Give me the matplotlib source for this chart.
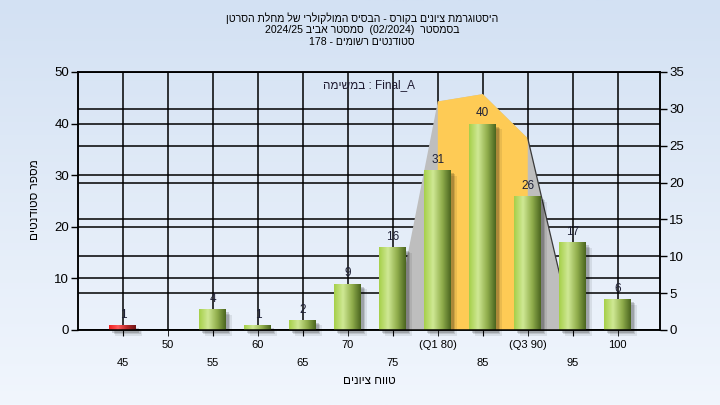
import numpy as np
import matplotlib.pyplot as plt
from matplotlib.colors import LinearSegmentedColormap
from matplotlib.patches import Rectangle

plt.rcParams['font.family'] = ['Liberation Sans', 'DejaVu Sans']

# histogram data
grades = ["45", "50", "55", "60", "65", "70", "75", "(Q1 80)", "85", "(Q3 90)", "95", "100"]
students = [1, 0, 4, 1, 2, 9, 16, 31, 40, 26, 17, 6]
failed = ["45"]

# curve drawn on the right hand axis
curve_grades = ["75", "(Q1 80)", "85", "(Q3 90)", "95"]
curve_vals = [0, 31, 32, 26, 0]
band = ["(Q1 80)", "85", "(Q3 90)"]


def rtl(s):
    # matplotlib has no bidi support, so hebrew is given in visual order
    return s[::-1]


title_lines = [
    rtl("היסטוגרמת ציונים בקורס - הבסיס המולקולרי של מחלת הסרטן"),
    "2024/25 " + rtl("סמסטר אביב") + "  (02/2024)  " + rtl("בסמסטר"),
    "178 - " + rtl("סטודנטים רשומים"),
]
legend_txt = rtl("במשימה") + " : Final_A"
ylab = rtl("מספר סטודנטים")
xlab = rtl("טווח ציונים")

fig = plt.figure(figsize=(7.2, 4.05), dpi=100)

# light blue background gradient
bg = fig.add_axes([0, 0, 1, 1], zorder=-10)
bg_cmap = LinearSegmentedColormap.from_list("bg", ["#d3e1f3", "#f1f6fd"])
bg.imshow(np.linspace(0, 1, 256).reshape(-1, 1), aspect="auto", cmap=bg_cmap, extent=[0, 1, 0, 1])
bg.axis("off")

rect = [78 / 720, 75 / 405, 582 / 720, 258 / 405]
ax = fig.add_axes(rect)
ax2 = ax.twinx()
ax.set_zorder(ax2.get_zorder() + 1)
ax.patch.set_visible(False)
ax2.set_facecolor("#b4b4b4")

pos = np.arange(len(grades))
cpos = [grades.index(g) for g in curve_grades]
bpos = [grades.index(g) for g in band]
bvals = [curve_vals[curve_grades.index(g)] for g in band]

# curve area and the quartile band (values live on the right axis)
ax.fill(cpos, curve_vals, color="#bebebe", lw=0, zorder=1, transform=ax2.transData)
ax.fill(bpos + bpos[::-1], bvals + [0] * len(bvals), color="#fecb55", lw=0, zorder=1.1,
        transform=ax2.transData)
ax.plot(cpos[3:], curve_vals[3:], color="#3a3a3a", lw=0.9, zorder=1.2, transform=ax2.transData)

green = LinearSegmentedColormap.from_list("g", ["#a6d04a", "#cfe894", "#93b04e", "#4b6620"])
red = LinearSegmentedColormap.from_list("r", ["#f02020", "#ff5a5a", "#b82828", "#6e1616"])
grad = np.linspace(0, 1, 64).reshape(1, -1)
w = 0.6
for x, n, g in zip(pos, students, grades):
    if n == 0:
        continue
    # soft shadow
    for k, a in enumerate([0.16, 0.12, 0.08]):
        sh = Rectangle((x - w / 2 + 0.06 + 0.03 * k, -0.6 - 0.25 * k), w, n, color="black",
                       alpha=a, lw=0, zorder=1.5, clip_on=False)
        ax.add_patch(sh)
    im = ax.imshow(grad, aspect="auto", cmap=red if g in failed else green,
                   extent=[x - w / 2, x + w / 2, 0, n], zorder=2)
    clip = Rectangle((x - w / 2, 0), w, n, transform=ax.transData)
    im.set_clip_path(clip)
    ax.annotate(str(n), (x, n), xytext=(0, 3), textcoords="offset points",
                ha="center", va="bottom", fontsize=8.5, color="#1e2036", zorder=3)

ax.set_xlim(-1, 11.94)
ax.set_ylim(0, 50)
ax2.set_ylim(0, 35)
ax.set_yticks(range(0, 51, 10))
ax2.set_yticks(range(0, 36, 5))

# alternate rows of tick labels
ax.set_xticks(pos[0::2], [grades[i] for i in pos[0::2]])
ax.set_xticks(pos[1::2], [grades[i] for i in pos[1::2]], minor=True)
ax.tick_params(axis="x", which="major", pad=16, length=4, labelsize=8)
ax.tick_params(axis="x", which="minor", pad=3, length=4, labelsize=8)
ax.tick_params(axis="y", length=5, width=1, labelsize=9.5, pad=1.5)
ax2.tick_params(axis="y", length=5, width=1, labelsize=9.5, pad=1.5)

ax.grid(True, which="both", axis="x", color="black", lw=1.1, zorder=0.5)
ax.grid(True, axis="y", color="black", lw=1.1)
ax2.grid(True, axis="y", color="black", lw=1.1)
ax.set_axisbelow(True)
ax2.set_axisbelow(True)
for a in (ax, ax2):
    for s in a.spines.values():
        s.set_color("black")
        s.set_linewidth(1.1)

ax.text(0.5, 0.95, legend_txt, transform=ax.transAxes, ha="center", va="center",
        fontsize=8.5, color="#1e1a30", zorder=4)

fig.text(35 / 720, 1 - 200 / 405, ylab, rotation=90, ha="center", va="center", fontsize=8.5)
fig.text(369 / 720, 1 - 381 / 405, xlab, ha="center", va="center", fontsize=8.5)

for i, line in enumerate(title_lines):
    fig.text(0.503, 1 - (18 + 12 * i) / 405, line, ha="center", va="center", fontsize=7.6)

fig.savefig("out.png", dpi=100)
